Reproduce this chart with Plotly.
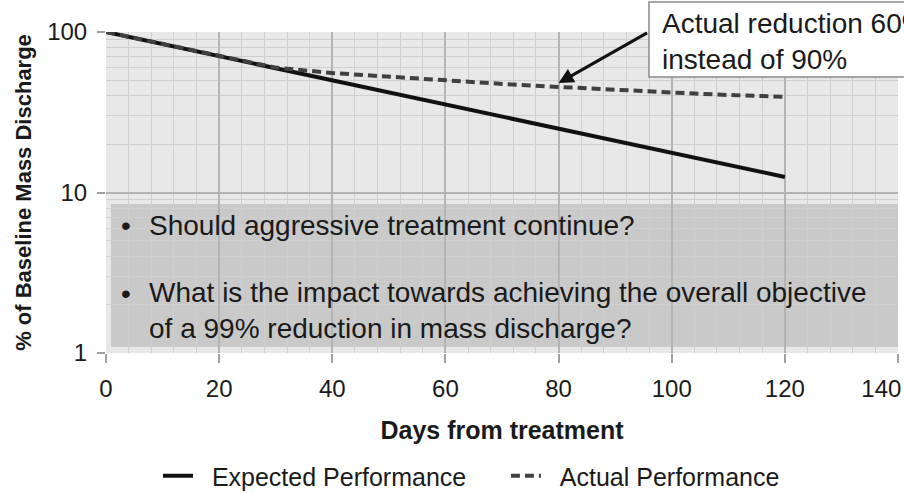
import plotly.graph_objects as go

# values
days_expected = [0, 20, 40, 60, 80, 100, 120]
expected = [100, 70.7, 50, 35.4, 25, 17.7, 12.5]

days_actual = [0, 10, 20, 30, 40, 50, 60, 70, 80, 90, 100, 110, 120]
actual = [100, 84, 70.7, 60, 55.5, 52.5, 50, 47.5, 45.5, 43.5, 42, 40.5, 39.5]

x_ticks = [0, 20, 40, 60, 80, 100, 120, 140]
x_labels = ["0", "20", "40", "60", "80", "100", "120", "140"]
y_ticks = [1, 10, 100]

FONT = "Arial, Liberation Sans, sans-serif"
TXT = "#1a1a1a"
NB = "\u00a0"

fig = go.Figure()
fig.add_trace(go.Scatter(
    x=days_expected, y=expected, mode="lines",
    name=NB * 2 + "Expected Performance" + NB * 5,
    line=dict(color="#111111", width=4),
))
fig.add_trace(go.Scatter(
    x=days_actual, y=actual, mode="lines",
    name=NB * 2 + "Actual Performance",
    line=dict(color="#404040", width=4, dash="9px,5px"),
))


def px_x(p):
    return (p - 106) / 792


def px_y(p):
    return (353 - p) / 321


# grey question box
fig.add_shape(
    type="rect", xref="paper", yref="paper",
    x0=px_x(111), x1=1.0, y0=px_y(347), y1=px_y(204),
    fillcolor="#c9c9c9", line=dict(width=0), layer="between",
)

box_font = dict(family=FONT, size=28, color=TXT)
for yy in [225, 293]:
    fig.add_annotation(x=px_x(126), y=px_y(yy), xref="paper", yref="paper",
                       text="•", showarrow=False, font=box_font,
                       xanchor="center", yanchor="middle")
fig.add_annotation(x=px_x(147), y=px_y(225), xref="paper", yref="paper",
                   text="Should aggressive treatment continue?", showarrow=False,
                   font=box_font, xanchor="left", yanchor="middle")
fig.add_annotation(x=px_x(147), y=px_y(310), xref="paper", yref="paper",
                   text="What is the impact towards achieving the overall objective<br>"
                        "of a 99% reduction in mass discharge?",
                   showarrow=False, font=box_font, xanchor="left", yanchor="middle",
                   align="left")

# callout box, cut at the right edge like the original
fig.add_shape(
    type="rect", xref="paper", yref="paper",
    x0=px_x(649), x1=px_x(915), y0=px_y(77), y1=px_y(2),
    fillcolor="white", line=dict(color="#8a8a8a", width=1.5), layer="above",
)
fig.add_annotation(x=px_x(660), y=px_y(41), xref="paper", yref="paper",
                   text="Actual reduction 60%<br>instead of 90%", showarrow=False,
                   font=dict(family=FONT, size=28, color=TXT),
                   xanchor="left", yanchor="middle", align="left")
fig.add_annotation(x=80, y=1.682, xref="x", yref="y", text="",
                   showarrow=True, ax=90, ay=-51, arrowhead=2, arrowsize=1,
                   arrowwidth=3, arrowcolor="#111111")

fig.update_xaxes(
    range=[0, 140], tickvals=x_ticks, ticktext=x_labels[:-1] + [x_labels[-1] + NB * 5],
    showgrid=True, gridcolor="#b4b4b4", gridwidth=1.5,
    minor=dict(dtick=4, showgrid=True, gridcolor="#cfcfcf", gridwidth=1),
    ticks="outside", ticklen=9, tickcolor="#a0a0a0", tickwidth=1.5,
    tickfont=dict(family=FONT, size=24, color=TXT), ticklabeloverflow="allow",
    ticklabelstandoff=5,
    zeroline=False, showline=False, automargin=False,
    title=dict(text="<b>Days from treatment</b>", font=dict(family=FONT, size=25, color=TXT),
               standoff=20),
)
fig.update_yaxes(
    type="log", range=[0, 2], tickvals=y_ticks, ticktext=[str(v) for v in y_ticks],
    showgrid=True, gridcolor="#b4b4b4", gridwidth=2,
    minor=dict(dtick="D1", showgrid=True, gridcolor="#cfcfcf", gridwidth=1),
    ticks="outside", ticklen=8, tickcolor="#a0a0a0", tickwidth=1.5,
    tickfont=dict(family=FONT, size=24, color=TXT), ticklabeloverflow="allow",
    ticklabelstandoff=5,
    zeroline=False, showline=False, automargin=False,
    title=dict(text="<b>% of Baseline Mass Discharge</b>",
               font=dict(family=FONT, size=22, color=TXT), standoff=9),
)

fig.update_layout(
    width=904, height=493,
    margin=dict(l=106, r=6, t=32, b=140, autoexpand=False),
    plot_bgcolor="#e8e8e8", paper_bgcolor="white",
    font=dict(family=FONT, size=24, color=TXT),
    showlegend=True,
    legend=dict(orientation="h", xref="container", yref="container",
                x=158 / 904, xanchor="left", y=(493 - 476) / 493, yanchor="middle",
                font=dict(family=FONT, size=25, color=TXT), bgcolor="rgba(0,0,0,0)"),
)

# drop the page's default body margin so the figure sits at the window's corner
fig.write_html("out.html", config={"displayModeBar": False},
               post_script="document.body.style.margin = '0';")
